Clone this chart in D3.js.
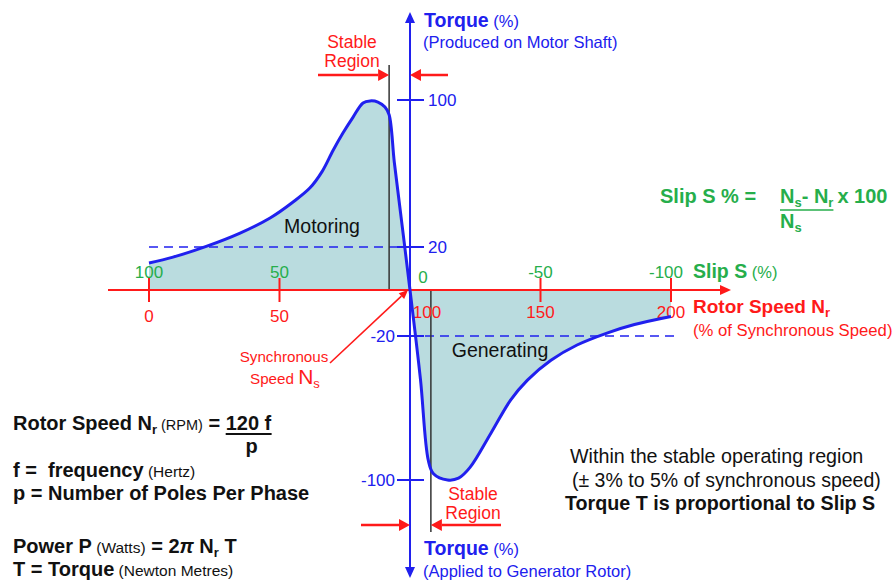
<!DOCTYPE html>
<html>
<head>
<meta charset="utf-8">
<script src="https://cdn.jsdelivr.net/npm/d3@7"></script>
<style>
  body { margin: 0; background: #fff; }
  svg { display: block; font-family: "Liberation Sans", Arial, sans-serif; }
  text { white-space: pre; }
</style>
</head>
<body>
<svg id="chart" width="893" height="583"></svg>
<script>
// rotor speed (% of synchronous speed) and slip ticks
const speedTicks = [0, 50, 100, 150, 200];
const slipTicks = [100, 50, 0, -50, -100];
const torqueTicks = [100, 20, -20, -100];

// torque / speed curve
const curveSpeed  = [0, 9.2, 22.2, 34.9, 46.4, 55.2, 61.7, 66.3, 70.5, 74.3, 78.2, 82, 84.7, 87.7, 90.4, 92, 94, 97, 100,
                     104, 107, 109, 114.4, 118.6, 123, 131, 138.6, 145, 154, 164, 176, 186, 200];
const curveTorque = [12.6, 15.3, 20.5, 27.6, 35.8, 44.5, 52.2, 61, 72.5, 82, 90.7, 98.4, 99.5, 98.9, 96.2, 92, 66, 31.5, 0,
                     -44, -89, -96.5, -100, -99, -93, -74, -55.5, -44.5, -33.5, -25, -18.5, -15, -11.5];

// stable operating region limits (speed %)
const stableLimits = [92, 108];
// dashed reference levels: torque, from speed, to speed
const refTorque = [20, -20];
const refFrom = [0, 100];
const refTo = [100, 202];

const BLUE = '#2020ee', RED = '#ff1a1a', GREEN = '#26ae4b', FILL = '#badcdf', K = '#111';

const svg = d3.select('#chart');

let x = d3.scaleLinear().domain([0, 200]).range([149, 671]);
// torque axis is not evenly spaced in the picture
let y = d3.scaleLinear().domain([-100, -20, 0, 20, 100]).range([480, 336, 290, 247, 100]);

let curve = curveSpeed.map((s, i) => ({s: s, t: curveTorque[i]}));
let smooth = d3.curveCatmullRom.alpha(0.5);

function arrow(g, x1, y1, x2, y2, color, w, len, half) {
  let a = Math.atan2(y2 - y1, x2 - x1);
  let bx = x2 - len * Math.cos(a), by = y2 - len * Math.sin(a);
  g.append('line').attr('x1', x1).attr('y1', y1).attr('x2', bx).attr('y2', by)
      .attr('stroke', color).attr('stroke-width', w);
  let px = -Math.sin(a) * half, py = Math.cos(a) * half;
  g.append('path')
      .attr('d', `M${x2},${y2}L${bx + px},${by + py}L${bx - px},${by - py}Z`)
      .attr('fill', color);
}

// filled area between curve and zero torque
let area = d3.area().x((d) => x(d.s)).y0(y(0)).y1((d) => y(d.t)).curve(smooth);
svg.append('path').datum(curve).attr('d', area).attr('fill', FILL);

// dashed reference lines
refTorque.forEach((t, i) => {
  svg.append('line')
      .attr('x1', x(refFrom[i])).attr('x2', x(refTo[i]))
      .attr('y1', y(t)).attr('y2', y(t))
      .attr('stroke', BLUE).attr('stroke-width', 1.6).attr('stroke-dasharray', '9,6');
});

// stable region boundaries
svg.append('line').attr('x1', x(stableLimits[0])).attr('x2', x(stableLimits[0]))
    .attr('y1', 65).attr('y2', y(0)).attr('stroke', '#333').attr('stroke-width', 1.5);
svg.append('line').attr('x1', x(stableLimits[1])).attr('x2', x(stableLimits[1]))
    .attr('y1', y(0)).attr('y2', 532).attr('stroke', '#333').attr('stroke-width', 1.5);

// horizontal (speed) axis
let ax = svg.append('g');
arrow(ax, 108, y(0), 731, y(0), RED, 2, 11, 5);
ax.selectAll('.xt').data(speedTicks).enter().append('line')
    .attr('x1', (d) => x(d)).attr('x2', (d) => x(d))
    .attr('y1', y(0) - 12).attr('y2', y(0) + 12)
    .attr('stroke', RED).attr('stroke-width', 2);
ax.selectAll('.xl').data(speedTicks).enter().append('text')
    .attr('x', (d) => d === 100 ? x(d) + 17 : x(d))
    .attr('y', (d) => d < 100 ? 322 : 318)
    .attr('text-anchor', 'middle').attr('fill', RED).attr('font-size', 17)
    .text((d) => d);
ax.selectAll('.sl').data(slipTicks).enter().append('text')
    .attr('x', (d) => d === 0 ? x(100 - d) + 13 : (d === -100 ? x(100 - d) - 5 : x(100 - d)))
    .attr('y', (d) => d === 0 ? 283 : 278)
    .attr('text-anchor', 'middle').attr('fill', GREEN).attr('font-size', 17)
    .text((d) => d);

// vertical (torque) axis
let ay = svg.append('g');
arrow(ay, x(100), y(0), x(100), 12, BLUE, 2, 11, 5);
arrow(ay, x(100), y(0), x(100), 578, BLUE, 2, 11, 5);
ay.selectAll('.yt').data(torqueTicks).enter().append('line')
    .attr('x1', x(100) - 13).attr('x2', x(100) + 14)
    .attr('y1', (d) => y(d)).attr('y2', (d) => y(d))
    .attr('stroke', BLUE).attr('stroke-width', 2);
ay.selectAll('.yl').data(torqueTicks).enter().append('text')
    .attr('x', (d) => d > 0 ? x(100) + 18 : x(100) - 15)
    .attr('y', (d) => y(d) + 6)
    .attr('text-anchor', (d) => d > 0 ? 'start' : 'end')
    .attr('fill', BLUE).attr('font-size', 17)
    .text((d) => d);

// curve
svg.append('path').datum(curve)
    .attr('d', d3.line().x((d) => x(d.s)).y((d) => y(d.t)).curve(smooth))
    .attr('fill', 'none').attr('stroke', BLUE).attr('stroke-width', 3)
    .attr('stroke-linejoin', 'round');

// stable region arrows
let sa = svg.append('g');
arrow(sa, 318, 75, x(stableLimits[0]), 75, RED, 2.5, 11, 6);
arrow(sa, 448, 75, x(100), 75, RED, 2.5, 11, 6);
arrow(sa, 361, 525, x(100), 525, RED, 2.5, 11, 6);
arrow(sa, 501, 525, x(stableLimits[1]), 525, RED, 2.5, 11, 6);

// synchronous speed pointer
arrow(sa, 330, 363, x(100) - 2, y(0), RED, 1.6, 9, 4);

// parts: [text, size, colour, bold, baseline-shift, style]
function txt(xp, yp, parts, anchor) {
  let t = svg.append('text').attr('x', xp).attr('y', yp);
  if (anchor) t.attr('text-anchor', anchor);
  parts.forEach((p) => {
    let s = t.append('tspan').text(p[0]);
    s.attr('font-size', p[1]).attr('fill', p[2]);
    if (p[3]) s.attr('font-weight', 'bold');
    if (p[4]) s.attr('baseline-shift', p[4]);
    if (p[5]) s.attr('font-style', p[5]);
  });
  return t;
}

const SUB = '-4';

// axis titles
txt(424, 27, [['Torque', 19.5, BLUE, true], [' (%)', 16.5, BLUE]]);
txt(423, 48, [['(Produced on Motor Shaft)', 16.5, BLUE]]);
txt(424, 555, [['Torque', 19.5, BLUE, true], [' (%)', 16.5, BLUE]]);
txt(423, 577, [['(Applied to Generator Rotor)', 16.5, BLUE]]);

txt(693, 278, [['Slip S', 19.5, GREEN, true], [' (%)', 16.5, GREEN]]);
txt(693, 313, [['Rotor Speed N', 19, RED, true], ['r', 13, RED, true, SUB]]);
txt(693, 336, [['(% of Synchronous Speed)', 16.7, RED]]);

// stable region labels
txt(352, 48, [['Stable', 17.5, RED]], 'middle');
txt(352, 67, [['Region', 17.5, RED]], 'middle');
txt(473, 500, [['Stable', 17.5, RED]], 'middle');
txt(473, 519, [['Region', 17.5, RED]], 'middle');

txt(322, 233, [['Motoring', 19.5, K]], 'middle');
txt(500, 357, [['Generating', 19.5, K]], 'middle');

txt(284, 362, [['Synchronous', 15.2, RED]], 'middle');
txt(250, 384, [['Speed ', 15.2, RED], ['N', 21, RED], ['s', 13, RED, false, SUB]]);

// slip formula
txt(660, 203, [['Slip S % =', 20, GREEN, true]]);
let num = txt(780, 203, [['N', 20, GREEN, true], ['s', 13, GREEN, true, SUB], ['- N', 20, GREEN, true], ['r', 13, GREEN, true, SUB]]);
let nb = num.node().getBBox();
svg.append('line').attr('x1', 780).attr('x2', nb.x + nb.width).attr('y1', 210).attr('y2', 210)
    .attr('stroke', GREEN).attr('stroke-width', 1.6);
txt(nb.x + nb.width + 4, 203, [['x 100', 20, GREEN, true]]);
txt(780, 228, [['N', 20, GREEN, true], ['s', 13, GREEN, true, SUB]]);

// left formula block
let rs = txt(13, 430, [['Rotor Speed N', 20, K, true], ['r', 13, K, true, SUB], [' (RPM)', 14.5, K], [' = ', 20, K, true], ['120 f', 20, K, true]]);
let fb = rs.select('tspan:last-child').node().getBBox();
svg.append('line').attr('x1', fb.x).attr('x2', fb.x + fb.width).attr('y1', 434).attr('y2', 434)
    .attr('stroke', K).attr('stroke-width', 1.8);
txt(fb.x + fb.width / 2 + 3, 453, [['p', 20, K, true]], 'middle');
txt(13, 477, [['f =  frequency', 20, K, true], [' (Hertz)', 15.5, K]]);
txt(13, 500, [['p = Number of Poles Per Phase', 20, K, true]]);
txt(13, 553, [['Power P', 20, K, true], [' (Watts)', 15.5, K], [' = 2', 20, K, true], ['\u03c0', 20, K, true, null, 'italic'],
              [' N', 20, K, true], ['r', 13, K, true, SUB], [' T', 20, K, true]]);
txt(13, 576, [['T = Torque', 20, K, true], [' (Newton Metres)', 15.5, K]]);

// right note
txt(570, 463, [['Within the stable operating region', 19.7, K]]);
txt(572, 487, [['(\u00b1 3% to 5% of synchronous speed)', 19.5, K]]);
txt(565, 510, [['Torque T is proportional to Slip S', 19.7, K, true]]);
</script>
</body>
</html>
